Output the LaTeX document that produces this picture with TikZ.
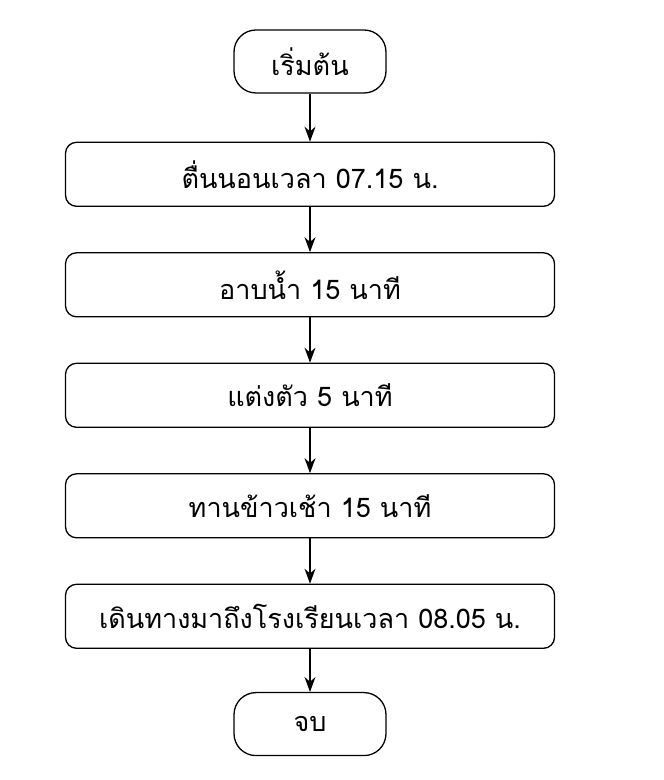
\documentclass[tikz,border=0pt]{standalone}
\usepackage{fontspec}
\newfontfamily\thaifont[Script=Thai]{Loma}
\usetikzlibrary{positioning,arrows.meta}
\begin{document}
\begin{tikzpicture}[x=1pt,y=1pt,
  font=\thaifont\fontsize{27}{32}\selectfont,
  node distance=45.2pt,
  terminal/.style={draw,line width=1.3pt,rounded corners=22pt,
    minimum width=152pt,minimum height=63pt,inner sep=0pt},
  stepbox/.style={draw,line width=1.3pt,rounded corners=11pt,
    minimum width=489pt,minimum height=64pt,inner sep=0pt},
  flow/.style={line width=1.3pt,-{Stealth[length=15pt,width=11pt]}}]
\useasboundingbox (0,0) rectangle (664,780);
% terminals and steps
\node[terminal] (start) at (310,718.5) {เริ่มต้น};
\node[stepbox,below=48pt of start] (wake) {ตื่นนอนเวลา 07.15 น.};
\node[stepbox,below=of wake] (bath) {อาบน้ำ 15 นาที};
\node[stepbox,below=of bath] (dress) {แต่งตัว 5 นาที};
\node[stepbox,below=of dress] (eat) {ทานข้าวเช้า 15 นาที};
\node[stepbox,below=of eat] (walk) {เดินทางมาถึงโรงเรียนเวลา 08.05 น.};
\node[terminal,below=43pt of walk] (stop) {จบ};
% connectors
\draw[flow] (start) -- (wake);
\draw[flow] (wake) -- (bath);
\draw[flow] (bath) -- (dress);
\draw[flow] (dress) -- (eat);
\draw[flow] (eat) -- (walk);
\draw[flow] (walk) -- (stop);
\end{tikzpicture}
\end{document}
